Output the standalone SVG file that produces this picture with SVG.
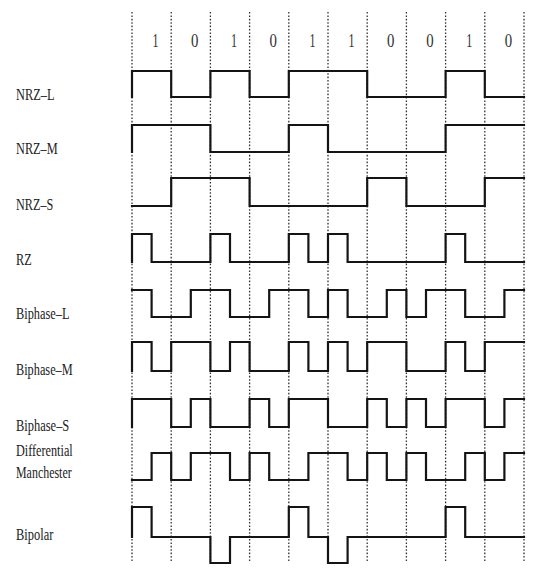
<svg xmlns="http://www.w3.org/2000/svg" width="533" height="573" viewBox="0 0 533 573">
<style>
.bg{fill:#ffffff}
.grid line{stroke:#333;stroke-width:1.3;stroke-dasharray:1.6 1.8}
.wave{fill:none;stroke:#141414;stroke-width:2.2;stroke-linejoin:miter;stroke-linecap:square}
.lbl{font-family:"Liberation Serif","Times New Roman",serif;font-size:16px;fill:#222}
.bit{font-family:"Liberation Serif","Times New Roman",serif;font-size:19px;fill:#333;text-anchor:middle}
</style>
<rect class="bg" x="0" y="0" width="533" height="573"/>
<g id="grid" class="grid">
<line x1="132" y1="12" x2="132" y2="562"/>
<line x1="171.2" y1="12" x2="171.2" y2="562"/>
<line x1="210.4" y1="12" x2="210.4" y2="562"/>
<line x1="249.6" y1="12" x2="249.6" y2="562"/>
<line x1="288.8" y1="12" x2="288.8" y2="562"/>
<line x1="328" y1="12" x2="328" y2="562"/>
<line x1="367.2" y1="12" x2="367.2" y2="562"/>
<line x1="406.4" y1="12" x2="406.4" y2="562"/>
<line x1="445.6" y1="12" x2="445.6" y2="562"/>
<line x1="484.8" y1="12" x2="484.8" y2="562"/>
<line x1="524" y1="12" x2="524" y2="562"/>
</g>
<g id="bits">
<text class="bit" x="155.6" y="47" textLength="6" lengthAdjust="spacingAndGlyphs">1</text>
<text class="bit" x="194.8" y="47" textLength="7.4" lengthAdjust="spacingAndGlyphs">0</text>
<text class="bit" x="234" y="47" textLength="6" lengthAdjust="spacingAndGlyphs">1</text>
<text class="bit" x="273.2" y="47" textLength="7.4" lengthAdjust="spacingAndGlyphs">0</text>
<text class="bit" x="312.4" y="47" textLength="6" lengthAdjust="spacingAndGlyphs">1</text>
<text class="bit" x="351.6" y="47" textLength="6" lengthAdjust="spacingAndGlyphs">1</text>
<text class="bit" x="390.8" y="47" textLength="7.4" lengthAdjust="spacingAndGlyphs">0</text>
<text class="bit" x="430" y="47" textLength="7.4" lengthAdjust="spacingAndGlyphs">0</text>
<text class="bit" x="469.2" y="47" textLength="6" lengthAdjust="spacingAndGlyphs">1</text>
<text class="bit" x="508.4" y="47" textLength="7.4" lengthAdjust="spacingAndGlyphs">0</text>
</g>
<g id="nrz-l">
<text class="lbl" x="16" y="100" textLength="38.5" lengthAdjust="spacingAndGlyphs">NRZ–L</text>
<path class="wave" d="M132,97 V71 H171.2 V97 H210.4 V71 H249.6 V97 H288.8 V71 H367.2 V97 H445.6 V71 H484.8 V97 H524"/>
</g>
<g id="nrz-m">
<text class="lbl" x="16" y="154" textLength="41.7" lengthAdjust="spacingAndGlyphs">NRZ–M</text>
<path class="wave" d="M132,152 V125 H210.4 V152 H288.8 V125 H328 V152 H445.6 V125 H524"/>
</g>
<g id="nrz-s">
<text class="lbl" x="16" y="210" textLength="37.3" lengthAdjust="spacingAndGlyphs">NRZ–S</text>
<path class="wave" d="M132,206 H171.2 V178 H249.6 V206 H367.2 V178 H406.4 V206 H484.8 V178 H524"/>
</g>
<g id="rz">
<text class="lbl" x="16" y="265" textLength="15.7" lengthAdjust="spacingAndGlyphs">RZ</text>
<path class="wave" d="M132,262 V234 H151.6 V262 H210.4 V234 H230 V262 H288.8 V234 H308.4 V262 H328 V234 H347.6 V262 H445.6 V234 H465.2 V262 H524"/>
</g>
<g id="biphase-l">
<text class="lbl" x="16" y="319" textLength="53.5" lengthAdjust="spacingAndGlyphs">Biphase–L</text>
<path class="wave" d="M132,290 H151.6 V317 H190.8 V290 H230 V317 H269.2 V290 H308.4 V317 H328 V290 H347.6 V317 H386.8 V290 H406.4 V317 H426 V290 H465.2 V317 H504.4 V290 H524"/>
</g>
<g id="biphase-m">
<text class="lbl" x="16" y="375" textLength="56.7" lengthAdjust="spacingAndGlyphs">Biphase–M</text>
<path class="wave" d="M132,371 V342 H151.6 V371 H171.2 V342 H210.4 V371 H230 V342 H249.6 V371 H288.8 V342 H308.4 V371 H328 V342 H347.6 V371 H367.2 V342 H406.4 V371 H445.6 V342 H465.2 V371 H484.8 V342 H524"/>
</g>
<g id="biphase-s">
<text class="lbl" x="16" y="431" textLength="53.3" lengthAdjust="spacingAndGlyphs">Biphase–S</text>
<path class="wave" d="M132,427 V399 H171.2 V427 H190.8 V399 H210.4 V427 H249.6 V399 H269.2 V427 H288.8 V399 H328 V427 H367.2 V399 H386.8 V427 H406.4 V399 H426 V427 H445.6 V399 H484.8 V427 H504.4 V399 H524"/>
</g>
<g id="differential-manchester">
<text class="lbl" x="16" y="456" textLength="56.7" lengthAdjust="spacingAndGlyphs">Differential</text>
<text class="lbl" x="16" y="478" textLength="55.7" lengthAdjust="spacingAndGlyphs">Manchester</text>
<path class="wave" d="M132,480 H151.6 V453 H171.2 V480 H190.8 V453 H230 V480 H249.6 V453 H269.2 V480 H308.4 V453 H347.6 V480 H367.2 V453 H386.8 V480 H406.4 V453 H426 V480 H465.2 V453 H484.8 V480 H504.4 V453 H524"/>
</g>
<g id="bipolar">
<text class="lbl" x="16" y="540" textLength="37.3" lengthAdjust="spacingAndGlyphs">Bipolar</text>
<path class="wave" d="M132,537 V507 H151.6 V537 H210.4 V563 H230 V537 H288.8 V507 H308.4 V537 H328 V563 H347.6 V537 H445.6 V507 H465.2 V537 H524"/>
</g>
</svg>
